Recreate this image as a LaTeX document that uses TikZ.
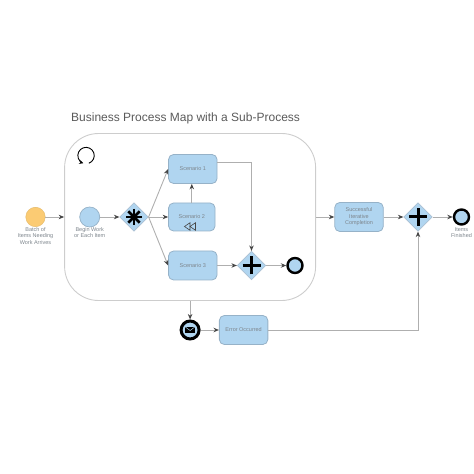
\documentclass[tikz,border=0pt]{standalone}
\usepackage{fontspec}
\setmainfont{Liberation Sans}
\usetikzlibrary{shapes.geometric, arrows.meta, positioning, calc}
\definecolor{mapBlue}{RGB}{176,213,240}
\definecolor{mapEdge}{RGB}{150,178,200}
\definecolor{mapOrange}{RGB}{251,203,115}
\definecolor{mapLine}{RGB}{175,175,175}
\definecolor{mapFrame}{RGB}{205,205,205}
\definecolor{mapTip}{RGB}{70,70,70}
\definecolor{mapText}{RGB}{125,133,140}
\definecolor{mapTitle}{RGB}{90,90,90}
\begin{document}
\begin{tikzpicture}[x=1pt, y=1pt, on grid,
      task/.style={rounded corners=5pt, draw=mapEdge, fill=mapBlue, line width=0.8pt, minimum width=48.5pt, minimum height=29pt,
      align=center, text=mapText, font=\fontsize{5.5}{6.5}\selectfont},
      gate/.style={diamond, draw=mapEdge!80, fill=mapBlue, line width=0.7pt, minimum width=28.5pt, minimum height=28.5pt, inner sep=0pt},
      event/.style={circle, minimum size=#1, inner sep=0pt},
      finish/.style={event=15pt, draw=black, fill=mapBlue, line width=2.4pt},
      note/.style={align=center, text=mapText, font=\fontsize{5.5}{6.5}\selectfont, inner sep=0pt},
      arrow/.style={-{Stealth[length=5.5pt, width=4.5pt, color=mapTip]}, line width=0.9pt, draw=mapLine},
      sign/.style={line width=3pt, draw=black}
    ]
    \useasboundingbox (0,0) rectangle (474,474);
    \node[anchor=west, inner sep=0pt, text=mapTitle, font=\fontsize{12}{14}\selectfont] (title) at (71,356) {Business Process Map with a Sub-Process};

    \node[rectangle, rounded corners=34pt, draw=mapFrame, line width=0.9pt, minimum width=251pt, minimum height=167pt] (subproc) at (190.1,257) {};
    \node[event=19.5pt, fill=mapOrange, draw=mapOrange!90!black, line width=0.4pt] (batch) at (35.5,257) {};
    \node[event=20pt, fill=mapBlue, draw=mapEdge, line width=0.7pt, right=54.2pt of batch] (begin) {};
    \node[gate, right=44.3pt of begin] (star) {};
    \node[task, right=57.8pt of star, minimum width=46.5pt, minimum height=28pt] (scen2) {Scenario 2};
    \node[task, above=48pt of scen2, xshift=1pt] (scen1) {Scenario 1};
    \node[task, below=48.5pt of scen2, xshift=1pt] (scen3) {Scenario 3};
    \node[gate, right=58.7pt of scen3] (plus) {};
    \node[finish, right=43.5pt of plus] (inner) {};
    \node[task, right=168.9pt of subproc] (done) {Successful\\Iterative\\Completion};
    \node[gate, right=59pt of done] (merge) {};
    \node[finish, right=43.5pt of merge] (outer) {};
    \node[event=18pt, draw=black, fill=mapBlue, line width=3pt, below=113pt of subproc] (fault) {};
    \node[task, right=53.5pt of fault] (error) {Error Occurred};

    \node[note, below=18.7pt of batch] (batchtext) {Batch of\\Items Needing\\Work Arrives};
    \node[note, below=15.5pt of begin] (begintext) {Begin Work\\or Each Item};
    \node[note, below=15.5pt of outer] (outertext) {Items\\Finished};

    % connectors
    \draw[arrow] (batch) -- (subproc.west |- batch);
    \draw[arrow] (begin) -- (star);
    \draw[arrow] (star.east) -- (scen1.west);
    \draw[arrow] (star.east) -- (scen2.west);
    \draw[arrow] (star.east) -- (scen3.west);
    \draw[arrow] (scen2) -- (scen2 |- scen1.south);
    \draw[arrow] ([yshift=7pt]scen1.east) -| (plus.north);
    \draw[arrow] (scen3) -- (plus);
    \draw[arrow] (plus) -- (inner);
    \draw[arrow] (subproc) -- (done);
    \draw[arrow] (done) -- (merge);
    \draw[arrow] (merge) -- (outer);
    \draw[arrow] (subproc.south -| fault) -- (fault);
    \draw[arrow] (fault) -- (error);
    \draw[arrow] (error) -| (merge.south);

    % markers
    \foreach \a in {0,45,...,135}
      \draw[line width=2.6pt] ($(star)+(\a:8pt)$) -- ($(star)+(\a+180:8pt)$);
    \foreach \g in {plus,merge} {
      \draw[sign] ($(\g)+(-9pt,0)$) -- ($(\g)+(9pt,0)$);
      \draw[sign] ($(\g)+(0,-9pt)$) -- ($(\g)+(0,9pt)$);
    }
    \draw[line width=0.9pt, -{Stealth[length=4pt, width=4pt]}] ($(subproc.north west)+(21.9,-22.5)+(-70:8.2pt)$) arc[start angle=-70, end angle=250, radius=8.2pt];
    \draw[line width=0.6pt, draw=mapTip] ($(scen2)+(3.7,-5.7)$) -- ++(0,-7.6) -- ++(-5.5,3.8) -- cycle;
    \draw[line width=0.6pt, draw=mapTip] ($(scen2)+(-1.8,-5.7)$) -- ++(0,-7.6) -- ++(-5.5,3.8) -- cycle;
    \fill[black] ($(fault)+(-5,-3.2)$) rectangle ($(fault)+(5,3.2)$);
    \draw[mapBlue, line width=0.5pt] ($(fault)+(-5,3.2)$) -- ($(fault)+(0,-0.5)$) -- ($(fault)+(5,3.2)$);
  \end{tikzpicture}
\end{document}
